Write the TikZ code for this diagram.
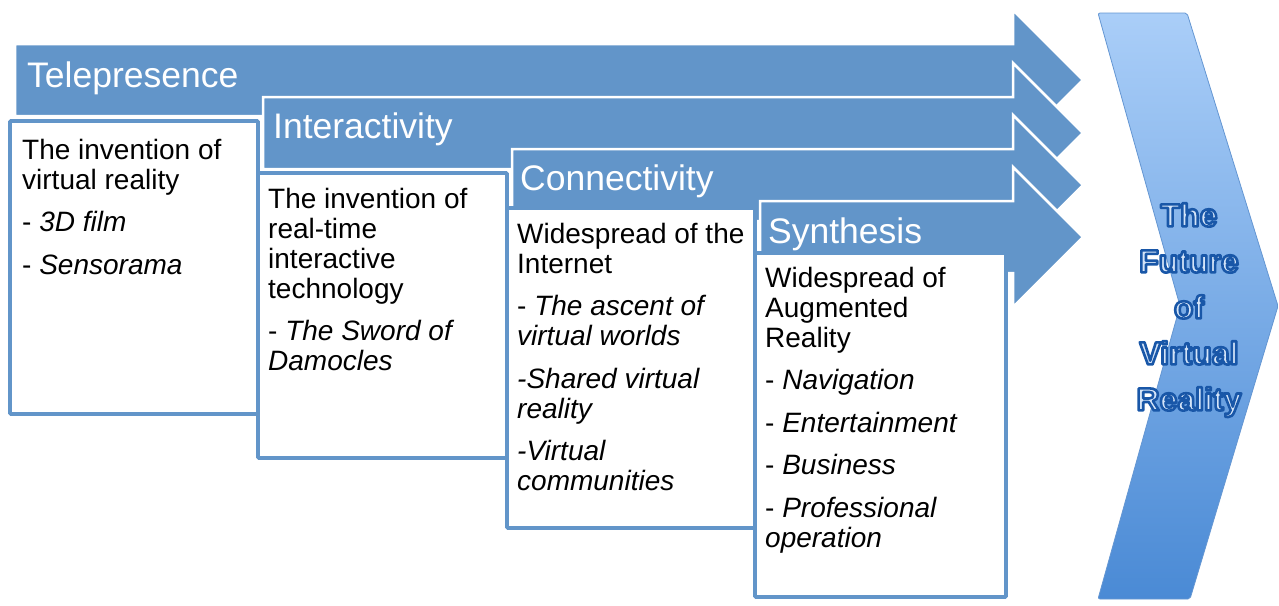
\documentclass[tikz,border=0pt]{standalone}
\usepackage{fontspec}
\setmainfont{Liberation Sans}
\definecolor{arrblue}{RGB}{98,149,201}
\definecolor{chevtop}{RGB}{170,206,248}
\definecolor{chevbot}{RGB}{74,138,213}
\definecolor{chevline}{RGB}{100,150,210}
\definecolor{textfill}{RGB}{212,228,248}
\tikzset{
  arrowband/.style={fill=arrblue, draw=white, line width=2.5pt, line join=miter},
  infobox/.style={fill=white, draw=arrblue, line width=3.8pt, rounded corners=1pt},
  headtext/.style={anchor=base west, inner sep=0pt, text=white, font=\fontsize{35.5}{40}\selectfont},
  bodytext/.style={anchor=north west, inner sep=0pt, align=left, font=\fontsize{28}{30}\selectfont},
  chevtext/.style={anchor=north, inner sep=0pt, align=center, font=\fontsize{32}{46}\selectfont\bfseries},
}
\newcommand{\bandarrow}[2]{%
  \path[arrowband] (#1,#2) -- (1013,#2) -- (1013,#2-34) -- (1083,#2+36)
    -- (1013,#2+106) -- (1013,#2+72) -- (#1,#2+72) -- cycle;}
\newcommand{\outlineon}{\special{pdf:literal direct 2 Tr 2.6 w 0.10 0.34 0.66 RG 1 j}}
\newcommand{\outlineoff}{\special{pdf:literal direct 0 Tr}}
\begin{document}
\begin{tikzpicture}[x=1pt,y=-1pt]
\useasboundingbox (0,0) rectangle (1279,605);
% band arrows
\bandarrow{15}{44}
\bandarrow{263}{97}
\bandarrow{512}{149}
\bandarrow{760}{201}
% header labels
\node[headtext] (h1) at (27,87) {Telepresence};
\node[headtext] (h2) at (273,138) {Interactivity};
\node[headtext] (h3) at (520,190) {Connectivity};
\node[headtext] (h4) at (768,243) {Synthesis};
% boxes
\draw[infobox] (10,121) rectangle (258,414);
\draw[infobox] (258,173) rectangle (507,458);
\draw[infobox] (507,208) rectangle (755,528);
\draw[infobox] (755,253) rectangle (1006,597);
% box texts
\node[bodytext] (t1) at (22,138.7) {The invention of\\virtual reality\\[12.5pt]- \textit{3D film}\\[12.5pt]- \textit{Sensorama}};
\node[bodytext] (t2) at (268,187.7) {The invention of\\real-time\\interactive\\technology\\[12.5pt]- \textit{The Sword of}\\\textit{Damocles}};
\node[bodytext] (t3) at (517,222.7) {Widespread of the\\Internet\\[12.5pt]- \textit{The ascent of}\\\textit{virtual worlds}\\[12.5pt]\textit{-Shared virtual}\\\textit{reality}\\[12.5pt]\textit{-Virtual}\\\textit{communities}};
\node[bodytext] (t4) at (765,266.7) {Widespread of\\Augmented\\Reality\\[12.5pt]- \textit{Navigation}\\[12.5pt]- \textit{Entertainment}\\[12.5pt]- \textit{Business}\\[12.5pt]- \textit{Professional}\\\textit{operation}};
% chevron
\path[top color=chevtop, bottom color=chevbot, draw=chevline, line width=0.8pt, rounded corners=2pt]
  (1098,13) -- (1187,13) -- (1278,306) -- (1190,599) -- (1098,599) -- (1180,306) -- cycle;
% outlined chevron text
\node[chevtext, text=textfill] (fut) at (1189,203) {\outlineon The\\Future\\of\\Virtual\\Reality\outlineoff};
\end{tikzpicture}
\end{document}
